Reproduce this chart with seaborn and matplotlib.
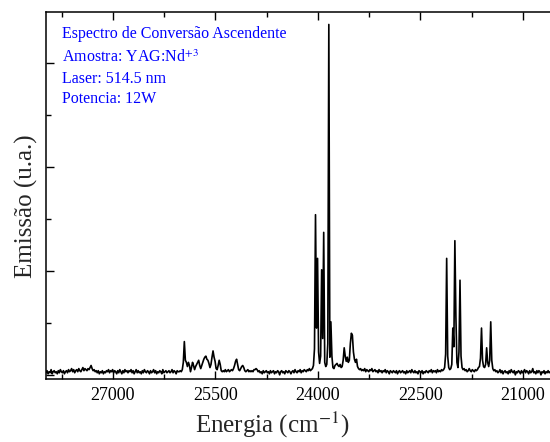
import numpy as np
import pandas as pd
import matplotlib
matplotlib.use("Agg")
import matplotlib.pyplot as plt
import seaborn as sns
from matplotlib.ticker import MultipleLocator, NullFormatter

# ---- data ----
energy_start = 27980   # cm^-1
energy_stop = 20600    # cm^-1
n_points = 493         # uniform spectrometer sampling, 15 cm^-1 step

intensity = [
    2, 4, 1, 3, 2, 5, 1, 3, 4, 2,
    3, 1, 4, 2, 5, 3, 2, 4, 1, 3,
    4, 2, 5, 3, 4, 6, 3, 5, 2, 4,
    5, 3, 6, 4, 3, 5, 7, 4, 6, 5,
    4, 6, 5, 7, 9, 6, 4, 5, 3, 4,
    2, 4, 1, 3, 2, 4, 1, 3, 2, 4,
    3, 5, 2, 4, 3, 5, 2, 4, 3, 1,
    4, 2, 5, 3, 1, 4, 2, 5, 3, 4,
    2, 4, 3, 5, 2, 4, 1, 3, 5, 2,
    4, 2, 3, 1, 4, 2, 5, 3, 2, 4,
    3, 1, 4, 2, 3, 5, 2, 4, 1, 3,
    2, 4, 3, 1, 5, 2, 3, 4, 2, 3,
    4, 2, 3, 5, 2, 4, 3, 1, 4, 3,
    3, 4, 3, 5, 12, 32, 14, 12, 8, 12,
    9, 3, 7, 12, 9, 5, 8, 10, 12, 14,
    9, 6, 9, 12, 15, 17, 18, 15, 14, 11,
    7, 10, 17, 23, 17, 13, 6, 5, 9, 14,
    10, 4, 3, 4, 3, 5, 3, 4, 5, 3,
    4, 5, 4, 6, 9, 13, 15, 10, 5, 4,
    6, 8, 9, 7, 4, 3, 4, 5, 3, 4,
    3, 4, 3, 5, 5, 6, 5, 3, 4, 2,
    3, 1, 4, 2, 3, 4, 2, 3, 1, 4,
    2, 3, 4, 1, 3, 2, 4, 3, 0, 3,
    4, 2, 3, 1, 4, 3, 2, 4, 3, 1,
    3, 4, 2, 5, 3, 2, 4, 3, 5, 2,
    4, 3, 5, 4, 3, 5, 4, 6, 4, 5,
    6, 9, 25, 154, 45, 112, 22, 11, 18, 101,
    35, 137, 12, 8, 10, 30, 337, 17, 51, 18,
    7, 6, 9, 10, 11, 9, 8, 10, 7, 8,
    14, 26, 18, 13, 17, 12, 14, 30, 40, 38,
    22, 15, 12, 15, 8, 6, 5, 6, 4, 5,
    4, 6, 3, 5, 4, 3, 5, 4, 6, 3,
    4, 5, 3, 4, 2, 5, 3, 4, 2, 4,
    3, 5, 2, 4, 3, 1, 4, 3, 2, 4,
    3, 2, 4, 1, 3, 4, 2, 3, 4, 2,
    3, 1, 4, 2, 3, 4, 2, 5, 3, 2,
    4, 2, 3, 1, 4, 3, 2, 4, 1, 3,
    2, 4, 3, 2, 4, 3, 5, 2, 4, 3,
    4, 2, 5, 3, 4, 3, 5, 4, 5, 7,
    20, 112, 18, 7, 5, 6, 10, 45, 27, 129,
    56, 12, 7, 22, 91, 18, 7, 5, 6, 4,
    5, 3, 4, 6, 4, 3, 5, 4, 3, 5,
    4, 5, 7, 8, 16, 45, 14, 8, 7, 10,
    26, 12, 8, 14, 51, 14, 6, 4, 5, 3,
    4, 2, 3, 5, 2, 4, 1, 3, 4, 2,
    3, 1, 4, 2, 5, 3, 2, 4, 0, 3,
    2, 4, 3, 1, 4, 2, 3, 5, 2, 4,
    3, 1, 4, 2, 3, 6, 2, 3, 1, 4,
    2, 4, 3, 0, 3, 2, 4, 1, 3, 2,
    4, 2, 3,
]

x_ticks = [27000, 25500, 24000, 22500, 21000]
info_lines = [
    "Espectro de Conversão Ascendente",
    "Amostra: YAG:Nd$^{+3}$",
    "Laser: 514.5 nm",
    "Potencia: 12W",
]

energy = np.linspace(energy_start, energy_stop, n_points)
df = pd.DataFrame({"Energia": energy, "Emissao": intensity})

# ---- style ----
sns.set_theme(style="ticks")
plt.rcParams["font.family"] = ["Liberation Serif", "DejaVu Serif"]
plt.rcParams["mathtext.fontset"] = "stix"

fig = plt.figure(figsize=(5.5, 4.42), dpi=100)
ax = fig.add_axes([46 / 550, 63 / 442, 511 / 550, 367 / 442])

sns.lineplot(data=df, x="Energia", y="Emissao", ax=ax, color="black",
             linewidth=1.2, sort=False, estimator=None)

ax.set_xlim(27980, 20500)
ax.set_ylim(-4, 349)

ax.set_xticks(x_ticks)
ax.xaxis.set_minor_locator(MultipleLocator(750))
ax.yaxis.set_major_locator(MultipleLocator(100))
ax.yaxis.set_minor_locator(MultipleLocator(50))
ax.yaxis.set_major_formatter(NullFormatter())

ax.tick_params(which="both", direction="in", top=True, right=False,
               width=1.0, colors="black")
ax.tick_params(which="major", length=6)
ax.tick_params(which="minor", length=3.5)
ax.tick_params(axis="x", labelsize=13, pad=6)

for s in ax.spines.values():
    s.set_linewidth(1.1)
    s.set_color("black")

ax.set_xlabel("Energia (cm$^{-1}$)", fontsize=18)
ax.set_ylabel("Emissão (u.a.)", fontsize=18)
ax.xaxis.set_label_coords(0.442, -0.085)
ax.yaxis.set_label_coords(-0.016, 0.471)

ys = [0.928, 0.863, 0.807, 0.753]
for txt, yy in zip(info_lines, ys):
    ax.text(0.0313, yy, txt, transform=ax.transAxes, color="#0000ff",
            fontsize=11.5, va="baseline", ha="left")

fig.savefig("out.png", dpi=100)
